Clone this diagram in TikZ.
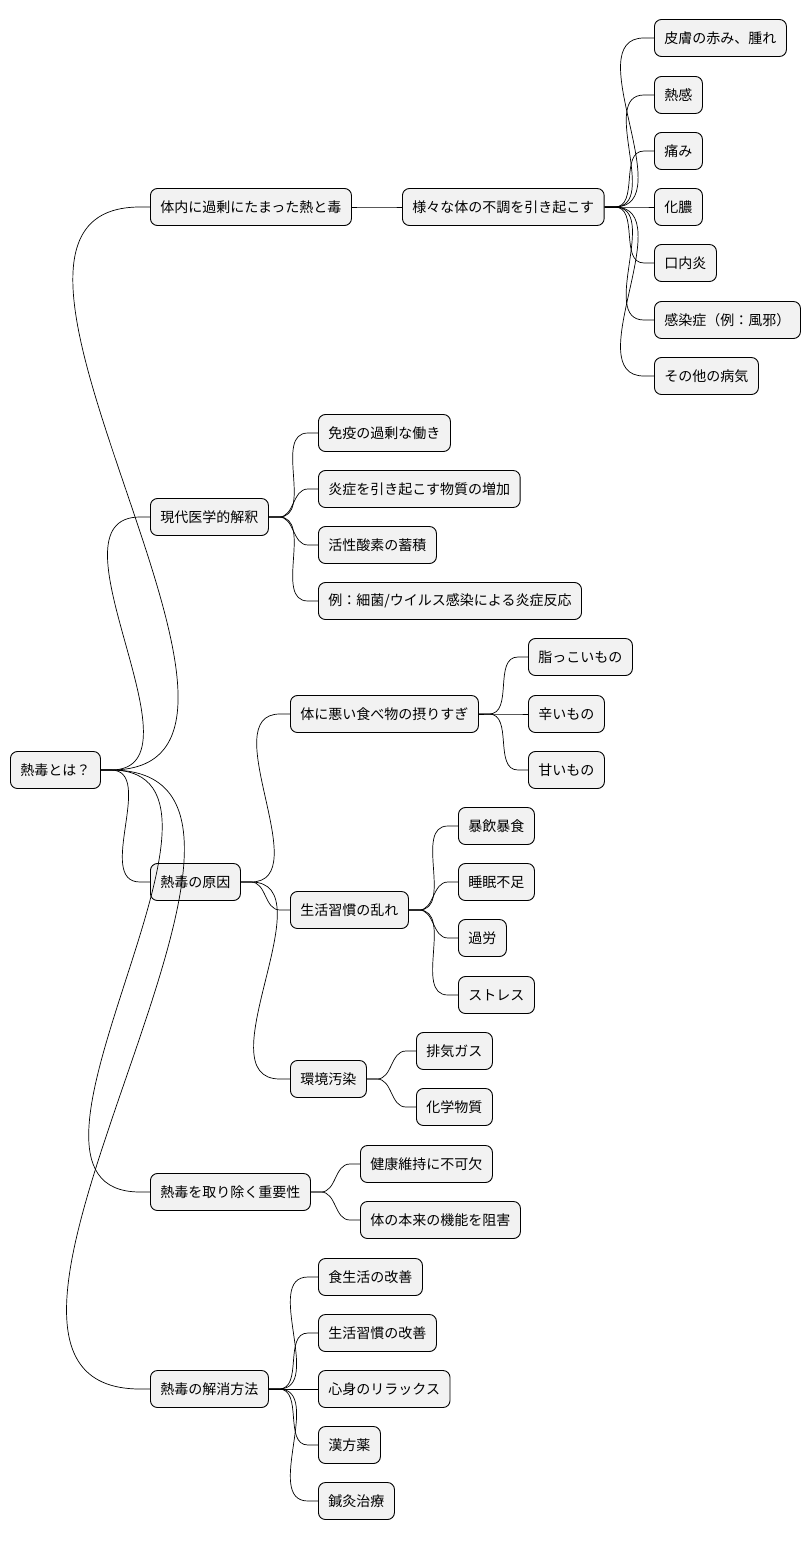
\documentclass[tikz,border=0pt]{standalone}
\usepackage{fontspec}
\setmainfont{Noto Sans CJK JP}
\usetikzlibrary{calc}
\tikzset{
 box/.style={draw=black,fill=black!5,rounded corners=7pt,minimum height=37pt,inner xsep=10pt,anchor=west,font=\fontsize{14}{16}\selectfont,line width=0.9pt},
 conn/.style={line width=0.7pt}
}
\newcommand{\cn}[2]{\draw[conn] (#1.east) -- ++(10,0) to[out=0,in=180] ($(#2.west)+(-10,0)$) -- (#2.west);}
\begin{document}
\begin{tikzpicture}[x=1pt,y=-1pt]
\useasboundingbox[fill=white] (0,0) rectangle (810,1541);
\node[box] (r) at (10,770) {熱毒とは？};
\node[box] (a) at (150,207) {体内に過剰にたまった熱と毒};
\node[box] (b) at (150,517) {現代医学的解釈};
\node[box] (c) at (150,882) {熱毒の原因};
\node[box] (d) at (150,1192) {熱毒を取り除く重要性};
\node[box] (e) at (150,1389) {熱毒の解消方法};
\node[box] (a1) at (402,207) {様々な体の不調を引き起こす};
\node[box] (a11) at (654,38) {皮膚の赤み、腫れ};
\node[box] (a12) at (654,95) {熱感};
\node[box] (a13) at (654,151) {痛み};
\node[box] (a14) at (654,207) {化膿};
\node[box] (a15) at (654,263) {口内炎};
\node[box] (a16) at (654,320) {感染症（例：風邪）};
\node[box] (a17) at (654,376) {その他の病気};
\node[box] (b1) at (318,433) {免疫の過剰な働き};
\node[box] (b2) at (318,489) {炎症を引き起こす物質の増加};
\node[box] (b3) at (318,545) {活性酸素の蓄積};
\node[box] (b4) at (318,601) {例：細菌/ウイルス感染による炎症反応};
\node[box] (c1) at (290,714) {体に悪い食べ物の摂りすぎ};
\node[box] (c2) at (290,910) {生活習慣の乱れ};
\node[box] (c3) at (290,1079) {環境汚染};
\node[box] (c11) at (528,657) {脂っこいもの};
\node[box] (c12) at (528,714) {辛いもの};
\node[box] (c13) at (528,770) {甘いもの};
\node[box] (c21) at (458,826) {暴飲暴食};
\node[box] (c22) at (458,882) {睡眠不足};
\node[box] (c23) at (458,938) {過労};
\node[box] (c24) at (458,995) {ストレス};
\node[box] (c31) at (416,1051) {排気ガス};
\node[box] (c32) at (416,1107) {化学物質};
\node[box] (d1) at (360,1164) {健康維持に不可欠};
\node[box] (d2) at (360,1220) {体の本来の機能を阻害};
\node[box] (e1) at (318,1277) {食生活の改善};
\node[box] (e2) at (318,1333) {生活習慣の改善};
\node[box] (e3) at (318,1389) {心身のリラックス};
\node[box] (e4) at (318,1445) {漢方薬};
\node[box] (e5) at (318,1501) {鍼灸治療};
\foreach \x in {a,b,c,d,e} {\cn{r}{\x}}
\cn{a}{a1}
\foreach \x in {1,...,7} {\cn{a1}{a1\x}}
\foreach \x in {1,...,4} {\cn{b}{b\x}}
\foreach \x in {1,2,3} {\cn{c}{c\x}\cn{c1}{c1\x}}
\foreach \x in {1,...,4} {\cn{c2}{c2\x}}
\foreach \x in {1,2} {\cn{c3}{c3\x}\cn{d}{d\x}}
\foreach \x in {1,...,5} {\cn{e}{e\x}}
\end{tikzpicture}
\end{document}
